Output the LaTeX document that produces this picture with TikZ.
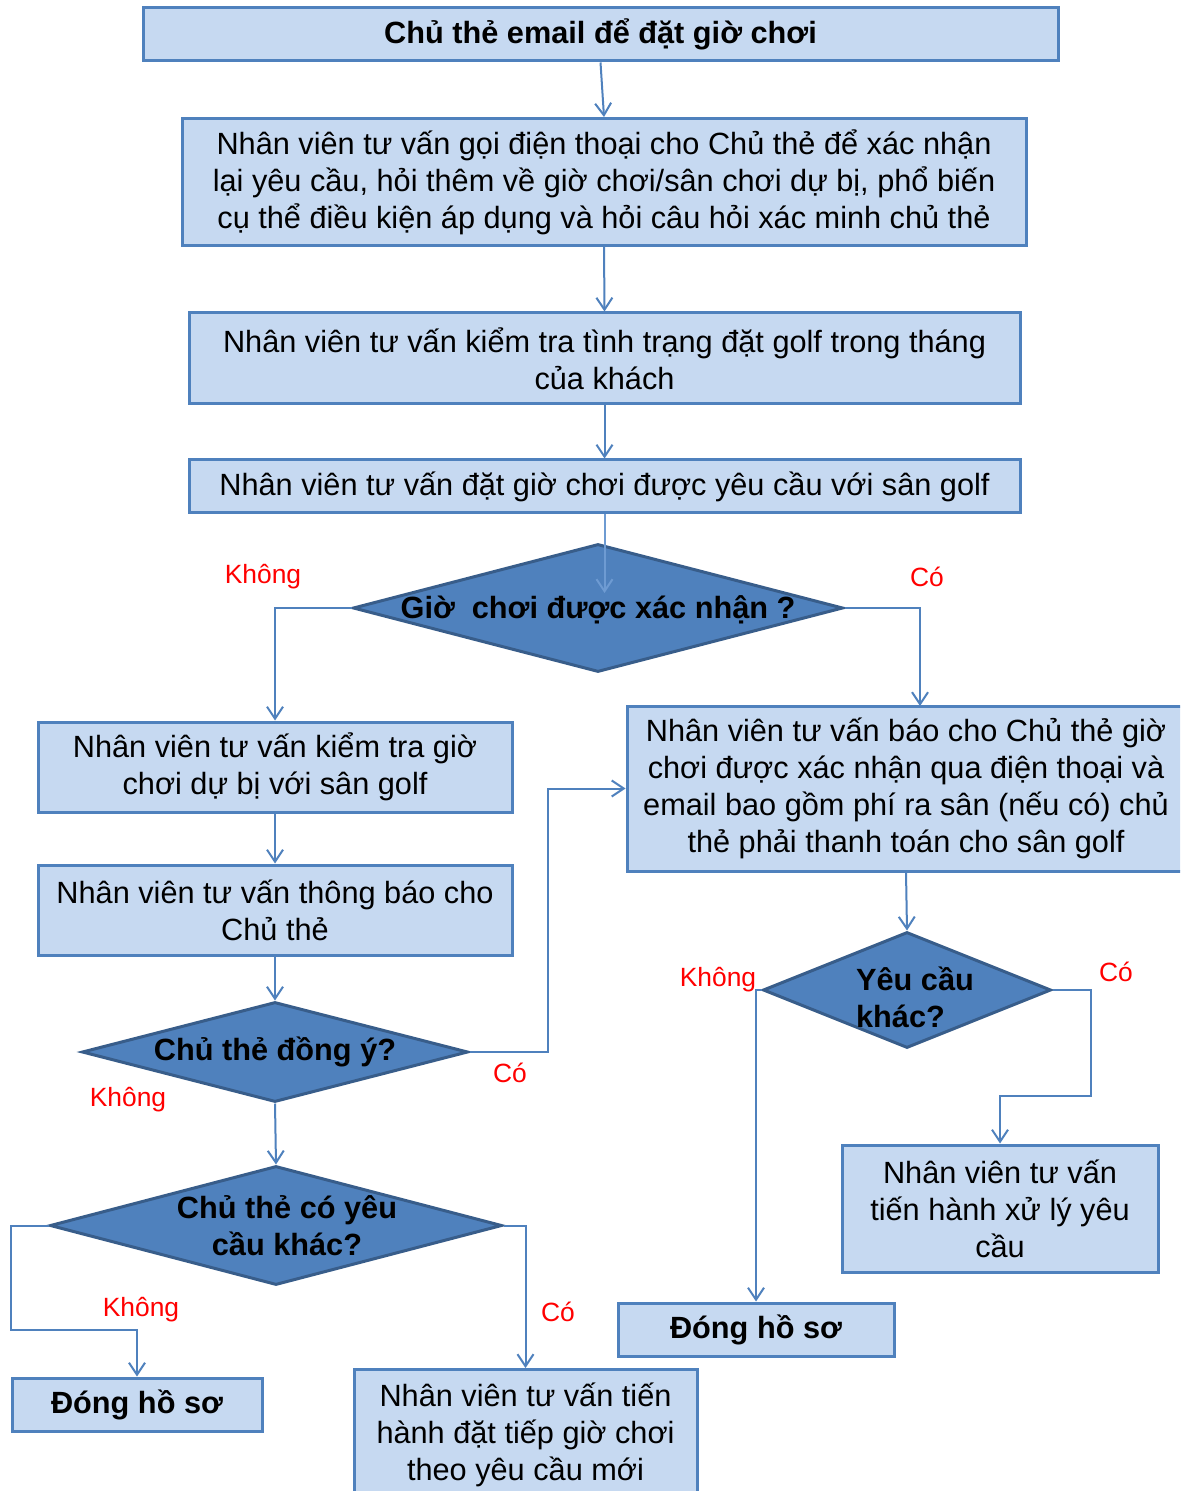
\documentclass[tikz,border=0pt]{standalone}
\usepackage{fontspec}
\setmainfont{Liberation Sans}
\usetikzlibrary{shapes.geometric,arrows.meta}
\definecolor{boxfill}{RGB}{198,217,241}
\definecolor{boxline}{RGB}{79,129,189}
\definecolor{diafill}{RGB}{79,129,189}
\definecolor{dialine}{RGB}{56,93,138}
\definecolor{inline}{RGB}{110,155,210}
\definecolor{labred}{RGB}{255,0,0}
\begin{document}
\begin{tikzpicture}[x=0.5pt,y=-0.5pt,
  box/.style={draw=boxline,line width=1.5pt,fill=boxfill,inner sep=0pt,align=center,font=\fontsize{15.35pt}{18.5pt}\selectfont},
  bbox/.style={box,font=\bfseries\fontsize{15.35pt}{18.5pt}\selectfont},
  dia/.style={diamond,draw=dialine,line width=1.5pt,fill=diafill,inner sep=0pt},
  dtext/.style={font=\bfseries\fontsize{15.35pt}{18.5pt}\selectfont,align=center,inner sep=0pt},
  conn/.style={draw=boxline,line width=1pt,-{Straight Barb[length=6pt,width=8pt]}},
  lab/.style={text=labred,font=\fontsize{13.2pt}{15pt}\selectfont,inner sep=0pt}]
\useasboundingbox (0,0) rectangle (1180,1491);
\clip (0,0) rectangle (1180,1491);
\fill[white] (0,0) rectangle (1180,1491);

\node[bbox,minimum width=457.5pt,minimum height=26.5pt] (b1) at (600.5,34.5) {Chủ thẻ email để đặt giờ chơi};
\node[box,minimum width=422pt,minimum height=63.5pt] (b2) at (604,182) {Nhân viên tư vấn gọi điện thoại cho Chủ thẻ để xác nhận\\lại yêu cầu, hỏi thêm về giờ chơi/sân chơi dự bị, phổ biến\\cụ thể điều kiện áp dụng và hỏi câu hỏi xác minh chủ thẻ};
\node[box,minimum width=415.5pt,minimum height=45.5pt] (b3) at (604.5,358.5) {Nhân viên tư vấn kiểm tra tình trạng đặt golf trong tháng\\của khách};
\node[box,minimum width=415.5pt,minimum height=26.5pt] (b4) at (604.5,486.5) {Nhân viên tư vấn đặt giờ chơi được yêu cầu với sân golf};
\node[dia,minimum width=245pt,minimum height=64pt,label={[dtext,yshift=-1pt]center:{Giờ\ \ chơi được xác nhận ?}}] (d1) at (598,608) {};
\node[box,minimum width=237pt,minimum height=45pt] (b5) at (275,767) {Nhân viên tư vấn kiểm tra giờ\\chơi dự bị với sân golf};
\node[box,minimum width=237pt,minimum height=45pt] (b6) at (275,910) {Nhân viên tư vấn thông báo cho\\Chủ thẻ};
\node[dia,minimum width=193pt,minimum height=50pt,label={[dtext]center:{Chủ thẻ đồng ý?}}] (d2) at (275,1052) {};
\node[dia,minimum width=226pt,minimum height=59.5pt,label={[dtext,xshift=5.5pt]center:{Chủ thẻ có yêu\\cầu khác?}}] (d3) at (276,1225.5) {};
\node[bbox,minimum width=125pt,minimum height=26.5pt] (e1) at (137,1404.5) {Đóng hồ sơ};
\node[box,minimum width=171.5pt,minimum height=65pt] (b9) at (525.5,1434.5) {Nhân viên tư vấn tiến\\hành đặt tiếp giờ chơi\\theo yêu cầu mới};
\node[box,minimum width=279pt,minimum height=82.5pt] (b7) at (906,788.5) {Nhân viên tư vấn báo cho Chủ thẻ giờ\\chơi được xác nhận qua điện thoại và\\email bao gồm phí ra sân (nếu có) chủ\\thẻ phải thanh toán cho sân golf};
\node[dia,minimum width=144pt,minimum height=58pt,label={[dtext,align=left,xshift=4pt,yshift=-3.5pt]center:{Yêu cầu\\khác?}}] (d4) at (907,990) {};
\node[box,minimum width=158pt,minimum height=63.5pt] (b8) at (1000,1208.5) {Nhân viên tư vấn\\tiến hành xử lý yêu\\cầu};
\node[bbox,minimum width=138pt,minimum height=26.5pt] (e2) at (756,1329.5) {Đóng hồ sơ};

\coordinate (d1in) at (604.5,593);
\coordinate (b7in) at (920,706);

\draw[conn] (b1.south) -- (b2.north);
\draw[conn] (b2.south) -- (b3.north);
\draw[conn] (b3.south) -- (b4.north);
\draw[conn,draw=inline] (b4.south) -- (d1in);
\draw[conn] (d1.west) -| (b5.north);
\draw[conn] (d1.east) -| (b7in);
\draw[conn] (b5.south) -- (b6.north);
\draw[conn] (b6.south) -- (d2.north);
\draw[conn] (d2.east) -- ++(78,0) |- (b7.west);
\draw[conn] (d2.south) -- (d3.north);
\draw[conn] (d3.west) -- ++(-38,0) -- ++(0,104) -| (e1.north);
\draw[conn] (d3.east) -| (b9.north);
\draw[conn] (b7.south) -- (d4.north);
\draw[conn] (d4.west) -| (e2.north);
\draw[conn] (d4.east) -- ++(38,0) -- ++(0,106) -| (b8.north);

\node[lab] (l1) at (263,577) {Không};
\node[lab] (l2) at (927,577) {Có};
\node[lab] (l3) at (510,1073) {Có};
\node[lab] (l4) at (128,1100) {Không};
\node[lab] (l5) at (141,1310) {Không};
\node[lab] (l6) at (558,1312) {Có};
\node[lab] (l7) at (718,980) {Không};
\node[lab] (l8) at (1116,972) {Có};
\end{tikzpicture}
\end{document}
